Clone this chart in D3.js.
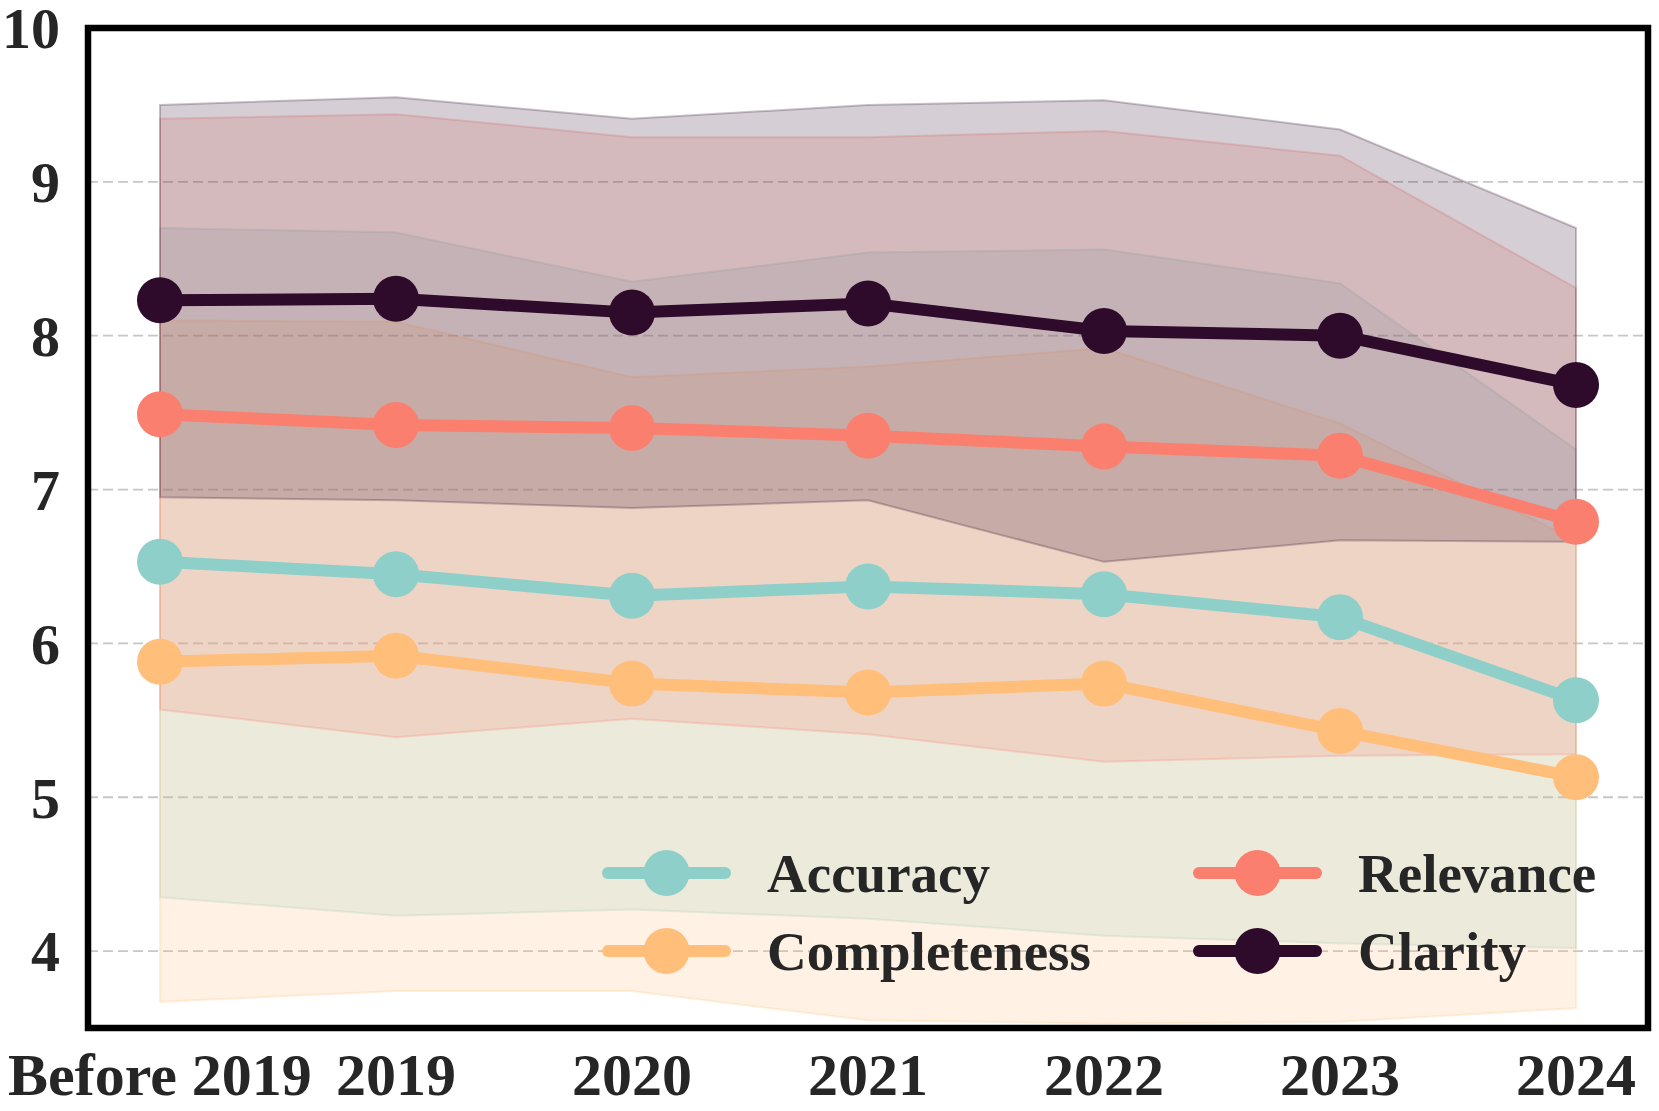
<!DOCTYPE html>
<html>
<head>
<meta charset="utf-8">
<script src="https://cdn.jsdelivr.net/npm/d3@7"></script>
<style>
  html, body { margin: 0; padding: 0; background: #fff; }
  svg text { font-family: "Liberation Serif", "Times New Roman", serif; font-weight: bold; fill: #262626; }
</style>
</head>
<body>
<div id="chart"></div>
<script>
const categories = ["Before 2019", "2019", "2020", "2021", "2022", "2023", "2024"];
const yTicks = [4, 5, 6, 7, 8, 9, 10];

const accuracyMean = [6.53, 6.45, 6.31, 6.37, 6.32, 6.17, 5.63];
const accuracyLow = [4.35, 4.23, 4.27, 4.21, 4.10, 4.05, 4.02];
const accuracyHigh = [8.70, 8.67, 8.35, 8.54, 8.56, 8.34, 7.26];

const completenessMean = [5.88, 5.92, 5.74, 5.68, 5.74, 5.43, 5.13];
const completenessLow = [3.67, 3.74, 3.74, 3.55, 3.53, 3.54, 3.63];
const completenessHigh = [8.10, 8.09, 7.73, 7.80, 7.92, 7.43, 6.67];

const relevanceMean = [7.49, 7.42, 7.40, 7.35, 7.28, 7.22, 6.79];
const relevanceLow = [5.57, 5.39, 5.51, 5.41, 5.23, 5.27, 5.28];
const relevanceHigh = [9.41, 9.44, 9.29, 9.29, 9.33, 9.17, 8.31];

const clarityMean = [8.23, 8.24, 8.15, 8.21, 8.03, 8.00, 7.68];
const clarityLow = [6.95, 6.93, 6.88, 6.93, 6.53, 6.67, 6.66];
const clarityHigh = [9.50, 9.55, 9.41, 9.50, 9.53, 9.34, 8.70];

const series = [
  { name: "Accuracy", color: "#8ECFC9", mean: accuracyMean, low: accuracyLow, high: accuracyHigh },
  { name: "Completeness", color: "#FFBE7A", mean: completenessMean, low: completenessLow, high: completenessHigh },
  { name: "Relevance", color: "#FA7F6F", mean: relevanceMean, low: relevanceLow, high: relevanceHigh },
  { name: "Clarity", color: "#2E0B2B", mean: clarityMean, low: clarityLow, high: clarityHigh }
];

const width = 1659, height = 1111;
const plotLeft = 88, plotRight = 1648, plotTop = 28, plotBottom = 1028;

const svg = d3.select("#chart").append("svg")
  .attr("width", width)
  .attr("height", height)
  .attr("viewBox", `0 0 ${width} ${height}`);

const x = d3.scalePoint().domain(categories).range([plotLeft, plotRight]).padding(0.305);
const y = d3.scaleLinear().domain([3.5, 10]).range([plotBottom, plotTop]);

svg.append("clipPath").attr("id", "plot-clip")
  .append("rect").attr("x", plotLeft).attr("y", plotTop)
  .attr("width", plotRight - plotLeft).attr("height", plotBottom - plotTop);

// horizontal dashed grid
svg.append("g")
  .selectAll("line")
  .data(yTicks.filter(d => d < 10))
  .join("line")
  .attr("x1", plotLeft).attr("x2", plotRight)
  .attr("y1", d => y(d)).attr("y2", d => y(d))
  .attr("stroke", "#b0b0b0")
  .attr("stroke-width", 1.8)
  .attr("stroke-dasharray", "10,5")
  .attr("opacity", 0.7);

const plot = svg.append("g").attr("clip-path", "url(#plot-clip)");

const area = d3.area()
  .x((d, i) => x(categories[i]))
  .y0(d => y(d[0]))
  .y1(d => y(d[1]));

const line = d3.line()
  .x((d, i) => x(categories[i]))
  .y(d => y(d));

// bands
series.forEach(s => {
  plot.append("path")
    .datum(s.low.map((v, i) => [v, s.high[i]]))
    .attr("d", area)
    .attr("fill", s.color)
    .attr("fill-opacity", 0.2)
    .attr("stroke", s.color)
    .attr("stroke-opacity", 0.25)
    .attr("stroke-width", 2);
});

// mean lines and markers
series.forEach(s => {
  plot.append("path")
    .datum(s.mean)
    .attr("d", line)
    .attr("fill", "none")
    .attr("stroke", s.color)
    .attr("stroke-width", 12)
    .attr("stroke-linejoin", "round");

  plot.append("g")
    .selectAll("circle")
    .data(s.mean)
    .join("circle")
    .attr("cx", (d, i) => x(categories[i]))
    .attr("cy", d => y(d))
    .attr("r", 23)
    .attr("fill", s.color);
});

// frame
svg.append("rect")
  .attr("x", plotLeft).attr("y", plotTop)
  .attr("width", plotRight - plotLeft).attr("height", plotBottom - plotTop)
  .attr("fill", "none")
  .attr("stroke", "#000")
  .attr("stroke-width", 6.5);

// y tick labels
svg.append("g")
  .selectAll("text")
  .data(yTicks)
  .join("text")
  .attr("x", 60)
  .attr("y", d => y(d))
  .attr("dy", "0.35em")
  .attr("text-anchor", "end")
  .attr("font-size", 58)
  .text(d => d);

// x tick labels
svg.append("g")
  .selectAll("text")
  .data(categories)
  .join("text")
  .attr("x", d => x(d))
  .attr("y", 1095)
  .attr("text-anchor", "middle")
  .attr("font-size", 60)
  .text(d => d);

// legend (two columns)
const legendPos = [
  { col: 0, row: 0 }, { col: 0, row: 1 }, { col: 1, row: 0 }, { col: 1, row: 1 }
];
const colX = [608, 1199];
const rowY = [873, 951];

const legend = svg.append("g");
series.forEach((s, i) => {
  const lx = colX[legendPos[i].col], ly = rowY[legendPos[i].row];
  const g = legend.append("g").attr("transform", `translate(${lx},${ly})`);
  g.append("line")
    .attr("x1", 0).attr("x2", 117)
    .attr("y1", 0).attr("y2", 0)
    .attr("stroke", s.color)
    .attr("stroke-width", 12)
    .attr("stroke-linecap", "round");
  g.append("circle").attr("cx", 58.5).attr("cy", 0).attr("r", 23).attr("fill", s.color);
  g.append("text")
    .attr("x", 159)
    .attr("y", 0)
    .attr("dy", "0.35em")
    .attr("font-size", 55)
    .text(s.name);
});
</script>
</body>
</html>
